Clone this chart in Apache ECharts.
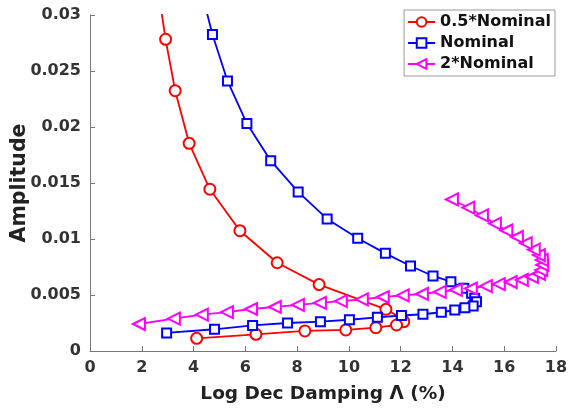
<!DOCTYPE html>
<html>
<head>
<meta charset="utf-8">
<script src="https://cdn.jsdelivr.net/npm/echarts@6/dist/echarts.min.js"></script>
<style>html,body{margin:0;padding:0;background:#fff}#c{width:570px;height:413px}</style>
</head>
<body>
<div id="c"></div>
<script>
// Log Dec Damping (%) and Amplitude for each case
const halfNominalX = [2.70, 2.92, 3.29, 3.83, 4.63, 5.79, 7.23, 8.85, 11.43, 12.05, 12.12, 11.84, 11.04, 9.88, 8.30, 6.41, 4.12];
const halfNominalY = [0.0312, 0.02783, 0.02324, 0.01854, 0.01444, 0.01074, 0.00788, 0.00593, 0.00372, 0.00290, 0.00262, 0.00232, 0.00208, 0.00188, 0.00179, 0.00149, 0.00113];

const nominalX = [4.45, 4.73, 5.31, 6.06, 6.98, 8.04, 9.16, 10.34, 11.41, 12.38, 13.25, 13.94, 14.44, 14.74, 14.86, 14.93, 14.80, 14.48, 14.09, 13.57, 12.86, 12.03, 11.10, 10.02, 8.90, 7.63, 6.28, 4.81, 2.96];
const nominalY = [0.0308, 0.02826, 0.02411, 0.02031, 0.01699, 0.01420, 0.01179, 0.01006, 0.00872, 0.00759, 0.00670, 0.00619, 0.00560, 0.00515, 0.00471, 0.00440, 0.00402, 0.00387, 0.00366, 0.00346, 0.00328, 0.00317, 0.00301, 0.00279, 0.00262, 0.00250, 0.00228, 0.00194, 0.00161];

const doubleNominalX = [1.89, 3.24, 4.32, 5.29, 6.22, 7.14, 8.03, 8.88, 9.69, 10.50, 11.31, 12.08, 12.82, 13.51, 14.13, 14.71, 15.29, 15.79, 16.25, 16.68, 17.07, 17.34, 17.43, 17.47, 17.45, 17.34, 17.14, 16.83, 16.49, 16.08, 15.64, 15.14, 14.61, 13.98];
const doubleNominalY = [0.00241, 0.00290, 0.00325, 0.00348, 0.00375, 0.00393, 0.00411, 0.00429, 0.00446, 0.00460, 0.00482, 0.00496, 0.00509, 0.00527, 0.00545, 0.00558, 0.00580, 0.00598, 0.00616, 0.00634, 0.00661, 0.00688, 0.00723, 0.00768, 0.00813, 0.00857, 0.00906, 0.00964, 0.01018, 0.01076, 0.01138, 0.01210, 0.01281, 0.01353];

const seriesNames = ['0.5*Nominal', 'Nominal', '2*Nominal'];
const xTicks = [0, 2, 4, 6, 8, 10, 12, 14, 16, 18];
const yTicks = [0, 0.005, 0.01, 0.015, 0.02, 0.025, 0.03];

const zip = (xs, ys) => xs.map((x, i) => [x, ys[i]]);
const FONT = 'DejaVu Sans';
const chart = echarts.init(document.getElementById('c'), null, {renderer: 'canvas'});
chart.setOption({
  animation: false,
  backgroundColor: '#fff',
  textStyle: {fontFamily: FONT},
  grid: {left: 90, right: 14, top: 15, bottom: 62, containLabel: false, outerBoundsMode: 'none'},
  legend: {
    orient: 'vertical', right: 15, top: 10,
    backgroundColor: '#fff', borderColor: '#9a9a9a', borderWidth: 1, borderRadius: 0,
    padding: [4, 4, 4, 3], itemGap: 5, itemWidth: 27, itemHeight: 12,
    textStyle: {fontFamily: FONT, fontWeight: 'bold', fontSize: 16, color: '#111'},
    data: seriesNames
  },
  xAxis: {
    type: 'value', min: xTicks[0], max: xTicks[xTicks.length - 1], interval: 2,
    name: 'Log Dec Damping Λ (%)', nameLocation: 'middle', nameGap: 34, nameMoveOverlap: false,
    nameTextStyle: {fontFamily: FONT, fontWeight: 'bold', fontSize: 18.5, color: '#222'},
    axisLine: {lineStyle: {color: '#777', width: 1}},
    axisTick: {inside: true, length: 5, lineStyle: {color: '#777'}},
    axisLabel: {fontFamily: FONT, fontWeight: 'bold', fontSize: 16, color: '#333', margin: 9},
    splitLine: {show: false}
  },
  yAxis: {
    type: 'value', min: yTicks[0], max: yTicks[yTicks.length - 1], interval: 0.005,
    name: 'Amplitude', nameLocation: 'middle', nameGap: 60, nameMoveOverlap: false,
    nameTextStyle: {fontFamily: FONT, fontWeight: 'bold', fontSize: 20.5, color: '#222'},
    axisLine: {show: true, lineStyle: {color: '#777', width: 1}},
    axisTick: {show: true, inside: true, length: 5, lineStyle: {color: '#777'}},
    axisLabel: {fontFamily: FONT, fontWeight: 'bold', fontSize: 16, color: '#333', margin: 9},
    splitLine: {show: false}
  },
  series: [
    {name: seriesNames[0], type: 'line', data: zip(halfNominalX, halfNominalY), clip: true,
     symbol: 'emptyCircle', symbolSize: 11, color: '#ff0000',
     lineStyle: {width: 1.8, color: '#ff0000'}, itemStyle: {color: '#ff0000', borderWidth: 1.3}},
    {name: seriesNames[1], type: 'line', data: zip(nominalX, nominalY), clip: true,
     symbol: 'emptyRect', symbolSize: 9, color: '#0000ff',
     lineStyle: {width: 1.8, color: '#0000ff'}, itemStyle: {color: '#0000ff', borderWidth: 1.3}},
    {name: seriesNames[2], type: 'line', data: zip(doubleNominalX, doubleNominalY), clip: true,
     symbol: 'emptyTriangle', symbolRotate: 90, symbolSize: 12, color: '#ff00ff',
     lineStyle: {width: 1.8, color: '#ff00ff'}, itemStyle: {color: '#ff00ff', borderWidth: 1.3}}
  ]
});
</script>
</body>
</html>
